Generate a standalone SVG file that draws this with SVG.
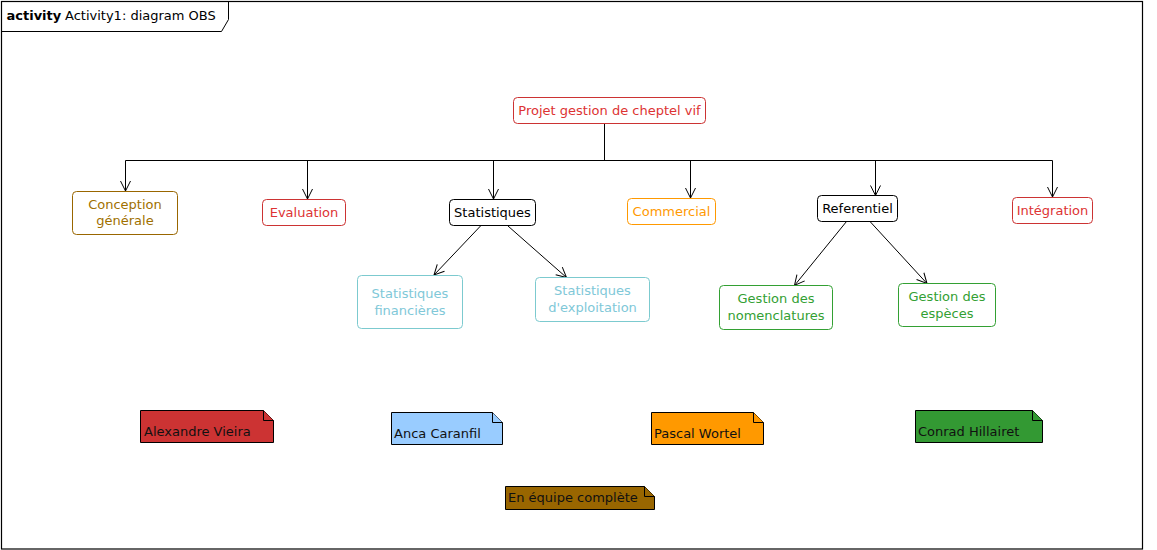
<svg xmlns="http://www.w3.org/2000/svg" width="1157" height="550" viewBox="0 0 1157 550">
<style>
text{font-family:"DejaVu Sans","Liberation Sans",sans-serif;font-size:13px}
.c{text-anchor:middle}
.node{fill:#fff;stroke-width:1}
.red rect{stroke:#CC3333}.red text{fill:#DD3333}
.blk rect{stroke:#000}.blk text{fill:#000}
.brn rect{stroke:#996600}.brn text{fill:#A07000}
.org rect{stroke:#FF9900}.org text{fill:#FF9900}
.cya rect{stroke:#7CCACF}.cya text{fill:#80C8D8}
.grn rect{stroke:#33A033}.grn text{fill:#33A033}
.conn line,.conn path{stroke:#000;stroke-width:1;fill:none}
.note path{stroke:#000;stroke-width:1}
.note text{fill:#111}
</style>
<defs>
<marker id="arr" markerUnits="userSpaceOnUse" markerWidth="12" markerHeight="12" refX="10" refY="5" orient="auto" viewBox="0 0 12 12" overflow="visible">
<path d="M0,0 L10,5 L0,10" fill="none" stroke="#000" stroke-width="1"/>
</marker>
</defs>
<rect width="1157" height="550" fill="#fff"/>
<g id="frame">
<rect x="1.5" y="1.5" width="1141" height="547.5" fill="none" stroke="#000" stroke-width="1.2"/>
<path d="M1.5,31.5 H221.5 L228.5,19.5 V1.5" fill="none" stroke="#000" stroke-width="1"/>
<text x="6.5" y="19.5" style="font-weight:bold">activity</text>
<text x="65" y="19.5">Activity1: diagram OBS</text>
</g>
<g class="conn" id="connectors">
<line x1="604.5" y1="123.5" x2="604.5" y2="160.5"/>
<line x1="125.5" y1="160.5" x2="1052.5" y2="160.5"/>
<line x1="125.5" y1="160.5" x2="125.5" y2="191" marker-end="url(#arr)"/>
<line x1="307.5" y1="160.5" x2="307.5" y2="199" marker-end="url(#arr)"/>
<line x1="493.5" y1="160.5" x2="493.5" y2="199" marker-end="url(#arr)"/>
<line x1="690.5" y1="160.5" x2="690.5" y2="198" marker-end="url(#arr)"/>
<line x1="875.5" y1="160.5" x2="875.5" y2="195.5" marker-end="url(#arr)"/>
<line x1="1052.5" y1="160.5" x2="1052.5" y2="197" marker-end="url(#arr)"/>
<line x1="480.5" y1="226" x2="434" y2="275" marker-end="url(#arr)"/>
<line x1="508" y1="226" x2="566.5" y2="277.5" marker-end="url(#arr)"/>
<line x1="846.5" y1="221.5" x2="794.5" y2="285.5" marker-end="url(#arr)"/>
<line x1="870" y1="221.5" x2="927" y2="283.5" marker-end="url(#arr)"/>
</g>
<g id="root" class="red"><rect class="node" x="513.5" y="97.5" width="192" height="26" rx="4"/><text class="c" x="609.5" y="115.2">Projet gestion de cheptel vif</text></g>
<g id="conception" class="brn"><rect class="node" x="72.5" y="191.5" width="105" height="43" rx="4"/><text class="c" x="125" y="208.5">Conception</text><text class="c" x="125" y="225">générale</text></g>
<g id="evaluation" class="red"><rect class="node" x="262.5" y="199.5" width="83" height="26" rx="4"/><text class="c" x="304" y="217">Evaluation</text></g>
<g id="statistiques" class="blk"><rect class="node" x="449.5" y="199.5" width="86" height="26" rx="4"/><text class="c" x="492.5" y="217">Statistiques</text></g>
<g id="commercial" class="org"><rect class="node" x="627.5" y="198.5" width="88" height="26" rx="4"/><text class="c" x="671.5" y="216">Commercial</text></g>
<g id="referentiel" class="blk"><rect class="node" x="817.5" y="195.5" width="80" height="26" rx="4"/><text class="c" x="857.5" y="213.2">Referentiel</text></g>
<g id="integration" class="red"><rect class="node" x="1012.5" y="197.5" width="80" height="26" rx="4"/><text class="c" x="1052.5" y="215">Intégration</text></g>
<g id="stat-fin" class="cya"><rect class="node" x="357.5" y="275.5" width="105" height="53" rx="4"/><text class="c" x="410" y="297.5">Statistiques</text><text class="c" x="410" y="314.5">financières</text></g>
<g id="stat-exp" class="cya"><rect class="node" x="535.5" y="277.5" width="114" height="44" rx="4"/><text class="c" x="592.5" y="294.5">Statistiques</text><text class="c" x="592.5" y="311.5">d'exploitation</text></g>
<g id="nomenclatures" class="grn"><rect class="node" x="719.5" y="285.5" width="113" height="44" rx="4"/><text class="c" x="776" y="302.5">Gestion des</text><text class="c" x="776" y="319.5">nomenclatures</text></g>
<g id="especes" class="grn"><rect class="node" x="898.5" y="283.5" width="97" height="43" rx="4"/><text class="c" x="947" y="300.5">Gestion des</text><text class="c" x="947" y="317.5">espèces</text></g>
<g id="note-alexandre" class="note"><path d="M140.5,410.5 H263.5 L273.5,420.5 V442.5 H140.5 Z" fill="#CC3333"/><path d="M263.5,410.5 V420.5 H273.5" fill="#CC3333"/><text x="144" y="436">Alexandre Vieira</text></g>
<g id="note-anca" class="note"><path d="M391.5,412.5 H492.5 L502.5,422.5 V444.5 H391.5 Z" fill="#99CCFF"/><path d="M492.5,412.5 V422.5 H502.5" fill="#99CCFF"/><text x="394" y="438">Anca Caranfil</text></g>
<g id="note-pascal" class="note"><path d="M651.5,412.5 H753.5 L763.5,422.5 V444.5 H651.5 Z" fill="#FF9900"/><path d="M753.5,412.5 V422.5 H763.5" fill="#FF9900"/><text x="654" y="438">Pascal Wortel</text></g>
<g id="note-conrad" class="note"><path d="M915.5,410.5 H1032.5 L1042.5,420.5 V442.5 H915.5 Z" fill="#339933"/><path d="M1032.5,410.5 V420.5 H1042.5" fill="#339933"/><text x="918" y="436">Conrad Hillairet</text></g>
<g id="note-equipe" class="note"><path d="M505.5,486.5 H644.5 L654.5,496.5 V509.5 H505.5 Z" fill="#996600"/><path d="M644.5,486.5 V496.5 H654.5" fill="#996600"/><text x="508" y="502">En équipe complète</text></g>
</svg>
